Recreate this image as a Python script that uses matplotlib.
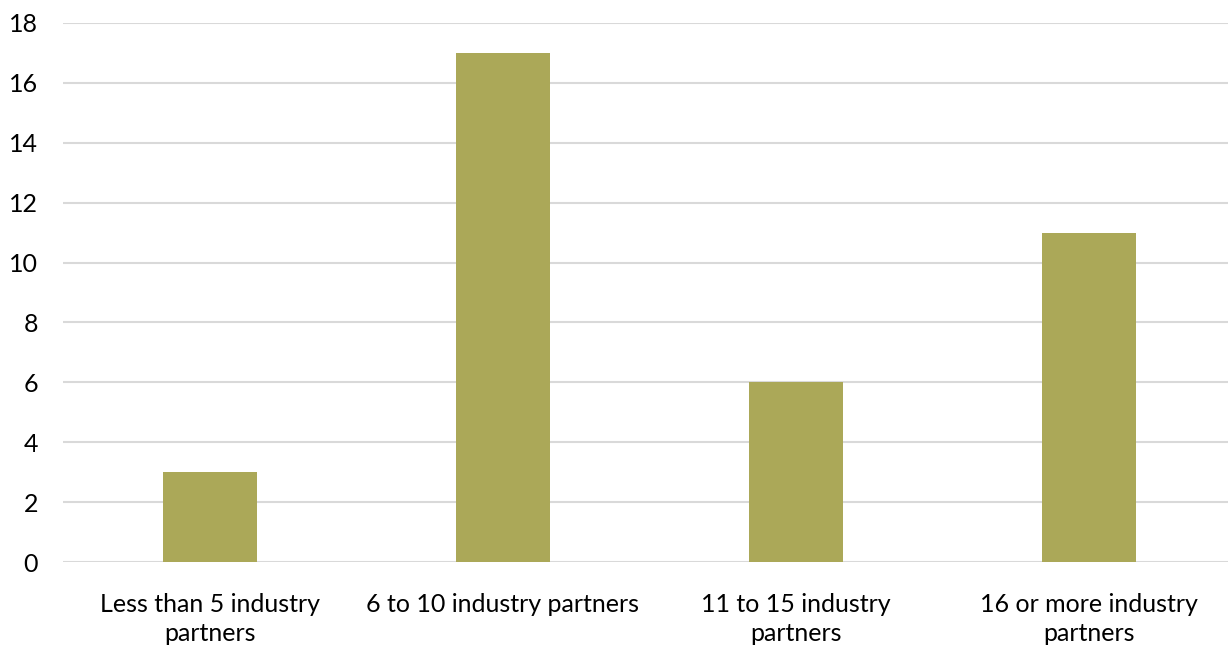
import matplotlib.pyplot as plt

categories = ['Less than 5 industry\npartners', '6 to 10 industry partners',
              '11 to 15 industry\npartners', '16 or more industry\npartners']
values = [3, 17, 6, 11]
y_ticks = [0, 2, 4, 6, 8, 10, 12, 14, 16, 18]

plt.rcParams['font.family'] = ['Lato', 'DejaVu Sans']

fig = plt.figure(figsize=(12.28, 6.5), dpi=100)
ax = fig.add_axes([63/1228, 88/650, 1173/1228, 539/650])

x_index = list(range(len(categories)))
ax.bar(x_index, values, width=0.32, color='#ABA858', zorder=3)

ax.set_xlim(-0.5, len(categories) - 0.5)
ax.set_ylim(0, 18)
ax.set_yticks(y_ticks)
ax.set_yticklabels([str(t) for t in y_ticks], fontsize=18, color='#000000')
ax.set_xticks(x_index)
ax.set_xticklabels(categories, fontsize=18, color='#000000', linespacing=1.32)

ax.yaxis.grid(True, color='#D9D9D9', linewidth=1.5, zorder=0)
for s in ['top', 'right', 'left', 'bottom']:
    ax.spines[s].set_visible(False)
ax.tick_params(axis='both', length=0)
ax.tick_params(axis='y', pad=18)
ax.tick_params(axis='x', pad=22)

fig.savefig('out.png', dpi=100)
